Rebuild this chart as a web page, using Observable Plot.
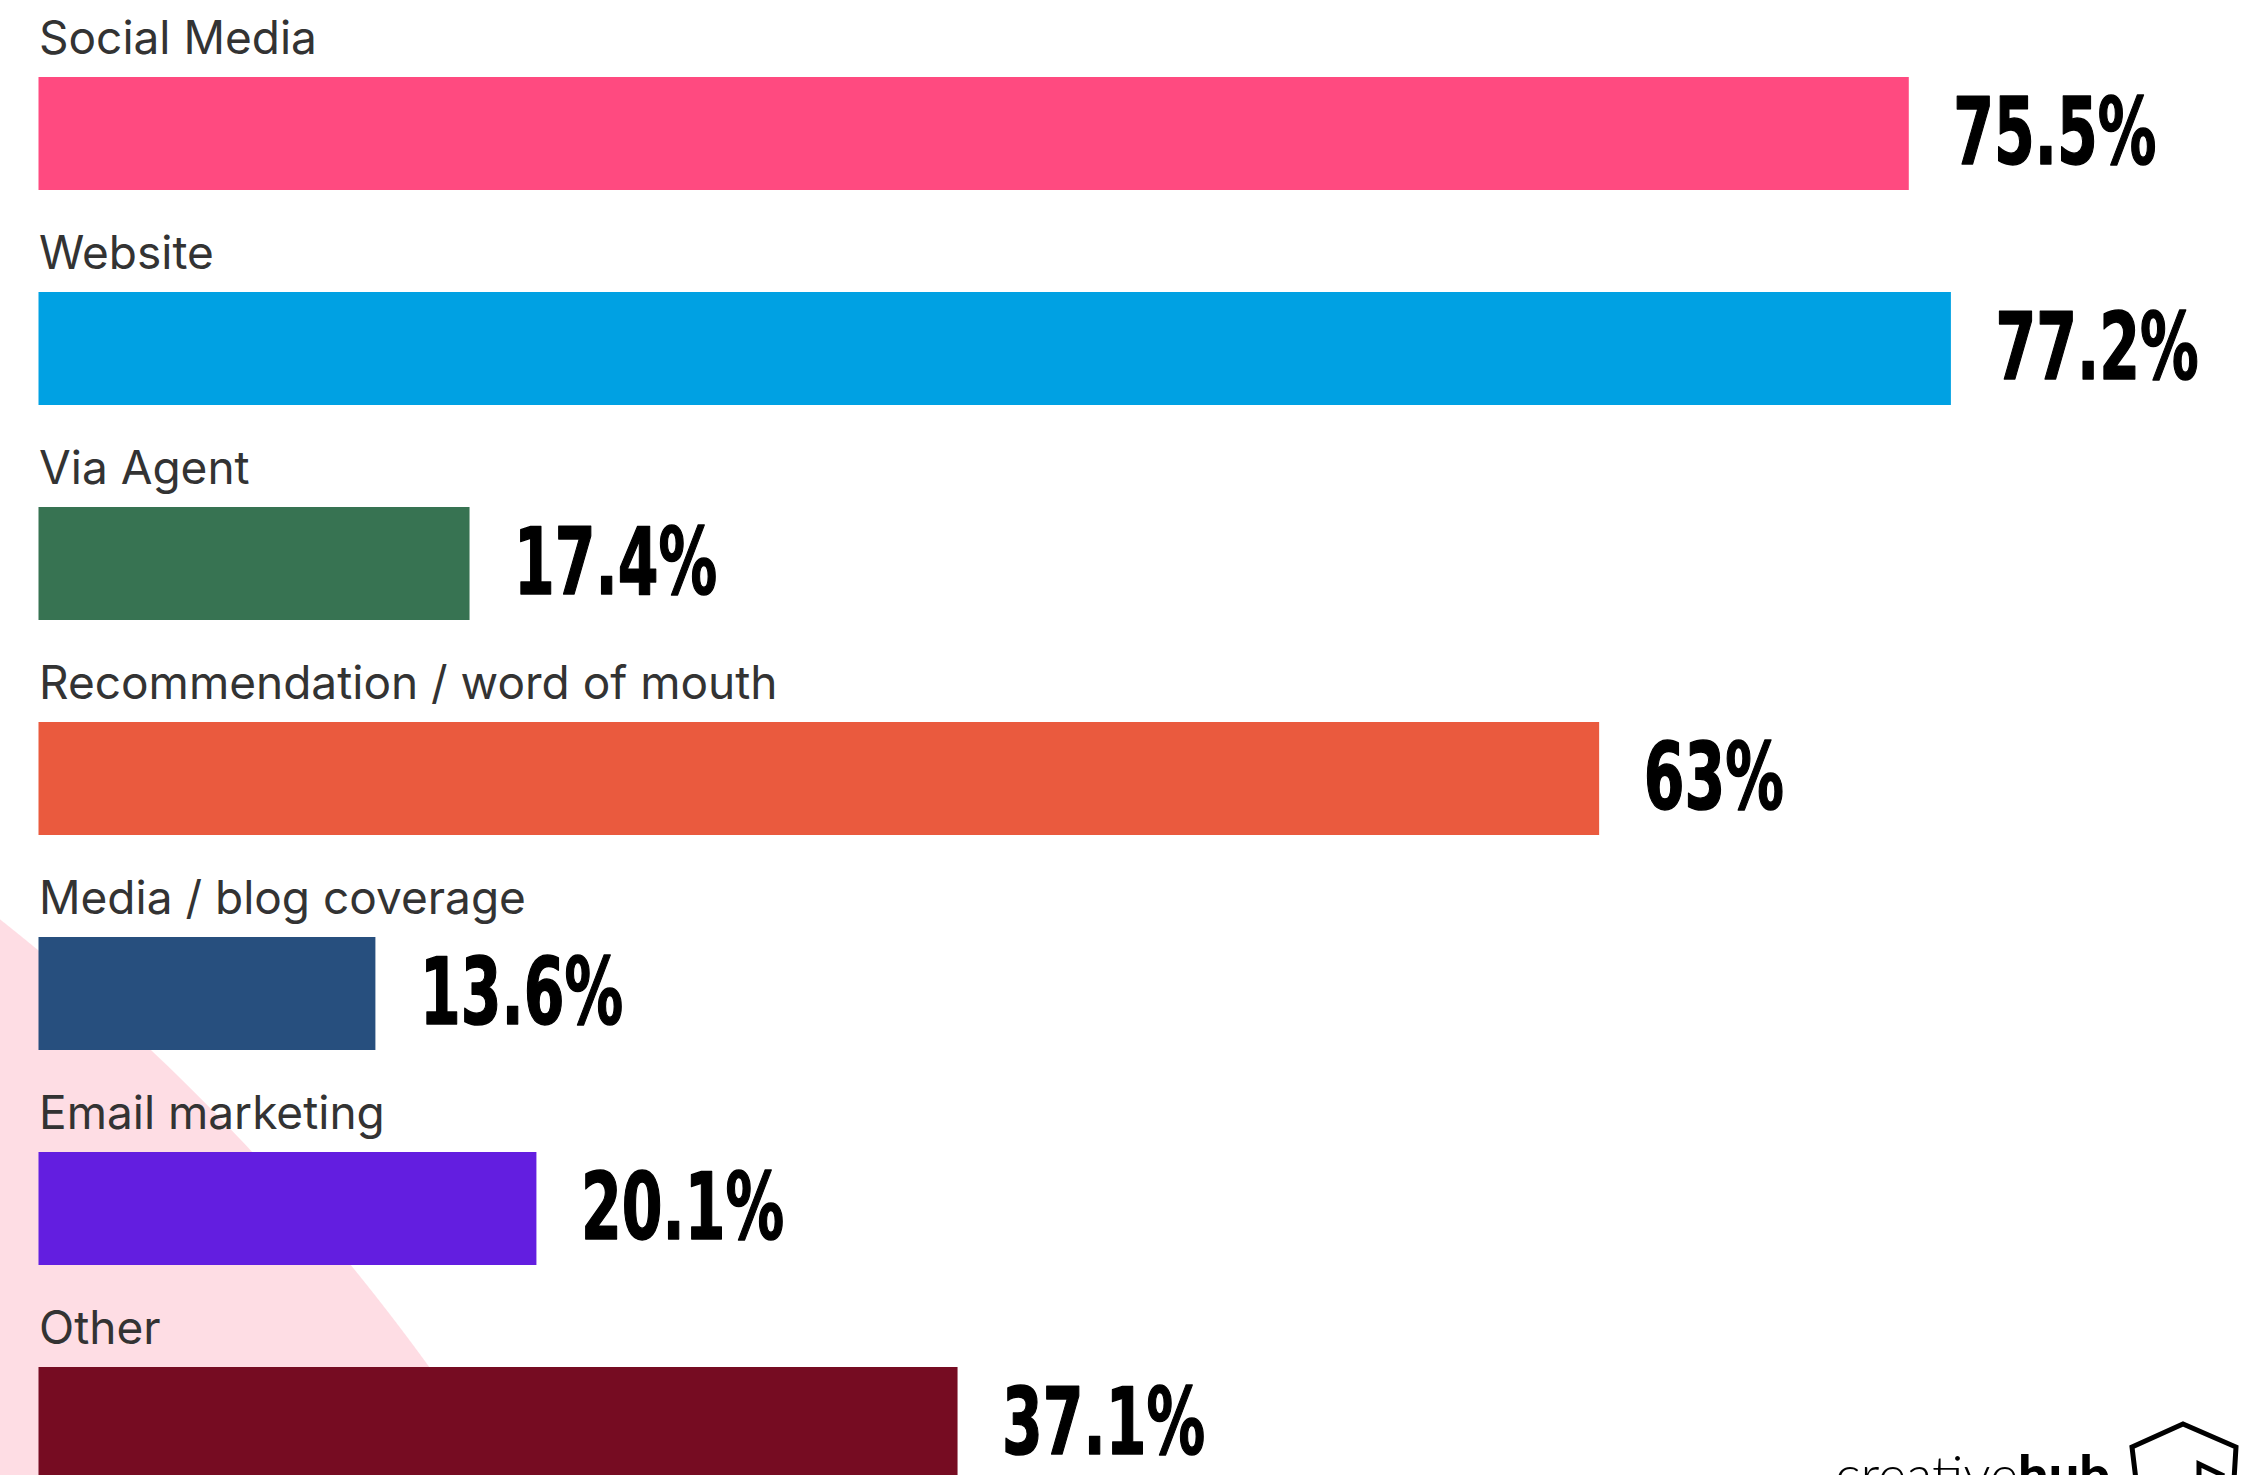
<!DOCTYPE html>
<html>
<head>
<meta charset="utf-8">
<script src="https://cdn.jsdelivr.net/npm/d3@7"></script>
<script src="https://cdn.jsdelivr.net/npm/@observablehq/plot@0.6"></script>
<style>
  html, body { margin: 0; padding: 0; overflow: hidden; background: #fff; }
  #wrap {
    position: relative; width: 2249px; height: 1475px; overflow: hidden;
    background: radial-gradient(circle 2274px at -1411px 2702px, #FEDDE4 2273px, #ffffff 2274px);
  }
  #chart, #logo { position: absolute; left: 0; top: 0; }
</style>
</head>
<body>
<div id="wrap">
  <div id="chart"></div>
  <svg id="logo" width="2249" height="1475" viewBox="0 0 2249 1475">
    <text x="1835" y="1494" font-family="Lato" font-size="54" font-weight="300" fill="#000">creative<tspan font-weight="900">hub</tspan></text>
    <polyline points="2136,1480 2132,1447 2183,1424 2236,1447 2234,1480" fill="none" stroke="#000" stroke-width="5" stroke-linejoin="miter"/>
    <polyline points="2199,1480 2199,1464 2224,1476" fill="none" stroke="#000" stroke-width="5"/>
  </svg>
</div>
<script>
const categories = [
  "Social Media",
  "Website",
  "Via Agent",
  "Recommendation / word of mouth",
  "Media / blog coverage",
  "Email marketing",
  "Other"
];
const values = [75.5, 77.2, 17.4, 63, 13.6, 20.1, 37.1];
const palette = ["#FF4A80", "#00A1E3", "#377352", "#EA5A3E", "#274F7E", "#631EE0", "#760C22"];

const data = categories.map((c, i) => ({category: c, value: values[i]}));

const chart = Plot.plot({
  width: 2249,
  height: 1475,
  margin: 0,
  style: {background: "transparent", overflow: "visible"},
  x: {domain: [0, 100], range: [38.5, 2515.7], axis: null},
  y: {domain: categories, range: [0, 1556.6], paddingInner: 0.476, paddingOuter: 0.348, axis: null},
  color: {domain: categories, range: palette},
  marks: [
    Plot.barX(data, {x: "value", y: "category", fill: "category"}),
    Plot.text(data, {
      x: d => 0, y: "category", text: "category",
      dy: -80, lineAnchor: "bottom", textAnchor: "start",
      fontSize: 46, fill: "#333333", fontFamily: "Inter, 'Open Sans', sans-serif"
    }),
    Plot.text(data, {
      x: "value", y: "category", text: d => `${d.value}%`,
      dx: 44, lineAnchor: "middle", textAnchor: "start",
      fontSize: 93, fontWeight: "bold", fill: "#000", stroke: "#000", strokeWidth: 1.5,
      fontFamily: "'DejaVu Sans Condensed', 'DejaVu Sans', sans-serif"
    })
  ]
});

document.getElementById("chart").appendChild(chart);

// horizontally condense the value labels
const textGroups = chart.querySelectorAll("g[aria-label='text']");
const valueGroup = textGroups[textGroups.length - 1];
valueGroup.querySelectorAll("text").forEach(t => {
  const tr = t.getAttribute("transform") || "";
  t.setAttribute("transform", tr + " scale(0.7,1)");
});
</script>
</body>
</html>
